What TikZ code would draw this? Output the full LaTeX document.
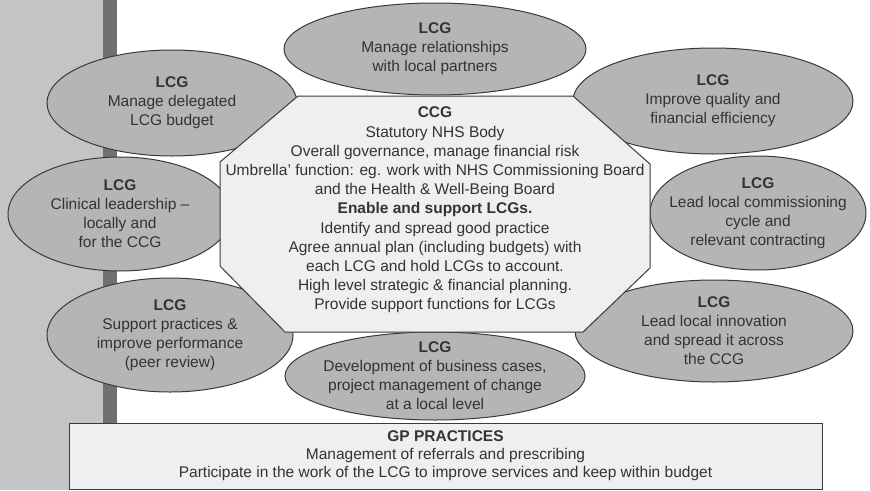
\documentclass[tikz,border=0pt]{standalone}
\usepackage{fontspec}
\setmainfont{Liberation Sans}
\usetikzlibrary{shapes.geometric}
\definecolor{panelgray}{HTML}{C4C4C4}
\definecolor{bargray}{HTML}{707070}
\definecolor{lcggray}{HTML}{B5B5B5}
\definecolor{boxgray}{HTML}{EFEFEF}
\definecolor{edgegray}{HTML}{3A3A3A}
\definecolor{textgray}{HTML}{333333}

\begin{document}
\begin{tikzpicture}[x=1pt, y=-1pt,
        lcg/.style={ellipse, draw=edgegray, line width=1pt, fill=lcggray,
            inner xsep=-40pt, inner ysep=-14pt, align=center, text=textgray,
            font=\fontsize{15.5}{19}\selectfont},
        ccgbox/.style={draw=edgegray, line width=1pt, fill=boxgray},
        ccgtext/.style={align=center, text=textgray, inner sep=0pt,
            font=\fontsize{15.5}{19.2}\selectfont},
        gpbox/.style={draw=edgegray, line width=1pt, fill=boxgray,
            align=center, text=textgray, inner sep=0pt,
            font=\fontsize{15.5}{18}\selectfont}]
    \useasboundingbox (0, 0) rectangle (870, 490);
    % left panel and bar
    \fill[panelgray] (0, 0) rectangle (103, 490);
    \fill[bargray] (103, 0) rectangle (117, 490);
    % LCG ellipses
    \node[lcg, minimum width=302, minimum height=92] (relations) at (435, 49)
        {\textbf{LCG}\\Manage relationships\\with local partners};
    \node[lcg, minimum width=250, minimum height=106] (budget) at (172, 103)
        {\textbf{LCG}\\Manage delegated\\LCG budget};
    \node[lcg, minimum width=280, minimum height=106] (quality) at (713, 101)
        {\textbf{LCG}\\Improve quality and\\financial efficiency};
    \node[lcg, minimum width=224, minimum height=114] (leadership) at (120, 214)
        {\textbf{LCG}\\Clinical leadership --\\locally and\\for the CCG};
    \node[lcg, minimum width=216, minimum height=114] (commissioning) at (758, 213)
        {\textbf{LCG}\\Lead local commissioning\\cycle and\\relevant contracting};
    \node[lcg, minimum width=246, minimum height=114] (support) at (170, 335)
        {\textbf{LCG}\\Support practices \&\\improve performance\\(peer review)};
    \node[lcg, minimum width=278, minimum height=102] (innovation) at (714, 331)
        {\textbf{LCG}\\Lead local innovation\\and spread it across\\the CCG};
    \node[lcg, minimum width=300, minimum height=88] (business) at (435, 376)
        {\textbf{LCG}\\Development of business cases,\\project management of change\\at a local level};
    % CCG octagon
    \draw[ccgbox] (298, 96) -- (573, 96) -- (650, 164) -- (650, 268) -- (583, 332)
        -- (285, 332) -- (220, 266) -- (220, 162) -- cycle;
    \node[ccgtext] (ccg) at (435, 210)
        {\textbf{CCG}\\Statutory NHS Body\\Overall governance, manage financial risk\\
        Umbrella' function: eg. work with NHS Commissioning Board\\
        and the Health \& Well-Being Board\\\textbf{Enable and support LCGs.}\\
        Identify and spread good practice\\
        Agree annual plan (including budgets) with\\
        each LCG and hold LCGs to account.\\
        High level strategic \& financial planning.\\
        Provide support functions for LCGs};
    % GP practices
    \node[gpbox, minimum width=753, minimum height=66] (gp) at (445.5, 456)
        {\textbf{GP PRACTICES}\\Management of referrals and prescribing\\
        Participate in the work of the LCG to improve services and keep within budget};
\end{tikzpicture}
\end{document}
